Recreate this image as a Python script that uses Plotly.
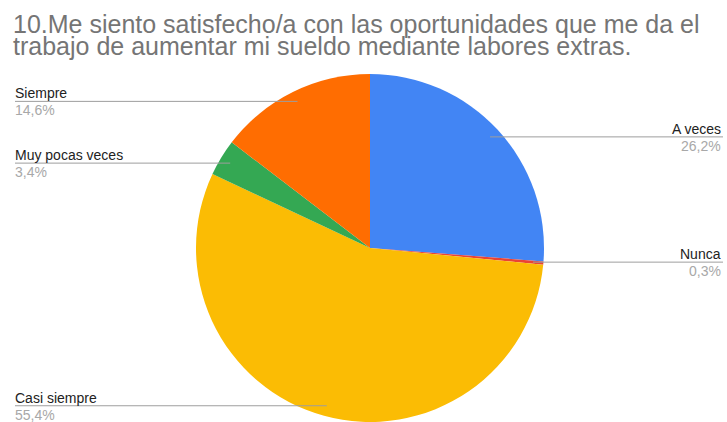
import math
import plotly.graph_objects as go

# Survey answers, clockwise from 12 o'clock
labels = ["A veces", "Nunca", "Casi siempre", "Muy pocas veces", "Siempre"]
values = [26.2, 0.3, 55.4, 3.4, 14.6]
colors = ["#4285F4", "#EA4335", "#FBBC04", "#34A853", "#FF6D01"]

title_lines = [
    "10.Me siento satisfecho/a con las oportunidades que me da el",
    "trabajo de aumentar mi sueldo mediante labores extras.",
]

W, H = 727, 422
FONT = "Liberation Sans, Arial, sans-serif"

# Pie placement (pixels)
cx, cy, r = 370, 248, 174
dom_x = [(cx - r) / W, (cx + r) / W]
dom_y = [(H - cy - r) / H, (H - cy + r) / H]

fig = go.Figure(
    go.Pie(
        labels=labels,
        values=values,
        marker=dict(colors=colors, line=dict(width=0)),
        sort=False,
        direction="clockwise",
        rotation=0,
        textinfo="none",
        hoverinfo="label+percent",
        showlegend=False,
        domain=dict(x=dom_x, y=dom_y),
    )
)

annotations = []
shapes = []

# Title, two lines set close together
for i, line in enumerate(title_lines):
    annotations.append(dict(
        text=line, xref="paper", yref="paper",
        x=12 / W, y=1 - (33 + 22 * i) / H, xanchor="left", yanchor="bottom",
        showarrow=False, font=dict(family=FONT, size=25, color="#757575"),
        yshift=-6, borderpad=0,
    ))

# Leader lines and outside labels
total = sum(values)
cum = 0.0
left_x, right_x = 15, 723
lr = r * 0.94
for lab, v in zip(labels, values):
    mid = (cum + v / 2) / total * 2 * math.pi
    cum += v
    px = cx + lr * math.sin(mid)
    py = cy - lr * math.cos(mid)
    on_right = math.sin(mid) > 0
    end_x = right_x if on_right else left_x
    yp = 1 - py / H
    shapes.append(dict(
        type="line", xref="paper", yref="paper",
        x0=px / W, x1=end_x / W, y0=yp, y1=yp,
        line=dict(color="#9E9E9E", width=1),
    ))
    anchor = "right" if on_right else "left"
    annotations.append(dict(
        text=lab, xref="paper", yref="paper", x=end_x / W, y=yp,
        xanchor=anchor, yanchor="bottom", showarrow=False, yshift=-1,
        borderpad=0, xshift=-1,
        font=dict(family=FONT, size=14, color="#222222"),
    ))
    pct = f"{v:.1f}%".replace(".", ",")
    annotations.append(dict(
        text=pct, xref="paper", yref="paper", x=end_x / W, y=yp,
        xanchor=anchor, yanchor="top", showarrow=False, yshift=0,
        borderpad=0, xshift=-1,
        font=dict(family=FONT, size=14, color="#A8A8A8"),
    ))

fig.update_layout(
    width=W, height=H,
    margin=dict(l=0, r=0, t=0, b=0),
    paper_bgcolor="white", plot_bgcolor="white",
    annotations=annotations, shapes=shapes,
)

fig.write_html("out.html")
